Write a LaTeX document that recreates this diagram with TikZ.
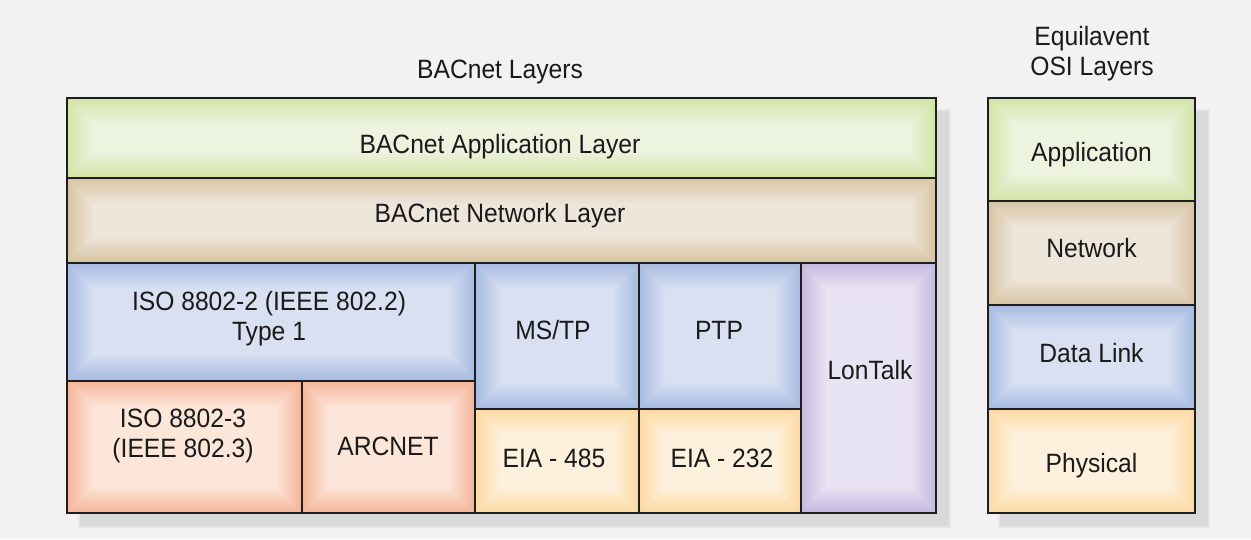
\documentclass[tikz,border=0pt]{standalone}
\usepackage{fontspec}
\setmainfont{Liberation Sans}[FakeStretch=0.93]

% layer colours: edge tone and lighter centre tone
\definecolor{pagebg}{HTML}{F3F1F1}
\definecolor{shadowc}{HTML}{DAD9D9}
\definecolor{shadowsoft}{HTML}{E7E5E5}
\definecolor{linec}{HTML}{1E1E1E}
\definecolor{textc}{HTML}{1A1A1A}
\definecolor{appE}{HTML}{D3E3A6}
\definecolor{appC}{HTML}{ECF3DF}
\definecolor{netE}{HTML}{D7C4A3}
\definecolor{netC}{HTML}{EEE6DA}
\definecolor{dlE}{HTML}{A7BBE1}
\definecolor{dlC}{HTML}{D8E0F2}
\definecolor{phyE}{HTML}{FDD9A2}
\definecolor{phyC}{HTML}{FDF1DE}
\definecolor{ethE}{HTML}{F5B598}
\definecolor{ethC}{HTML}{FCE5D9}
\definecolor{lonE}{HTML}{C4BADF}
\definecolor{lonC}{HTML}{E9E4F3}

% two centred lines, baseline at the first line
\newcommand\twoline[2]{\vtop{\baselineskip=30pt\halign{\hfil##\hfil\cr#1\cr#2\cr}}}

\tikzset{
  cell/.style 2 args={
    draw=linec, line width=1.6pt, inner sep=0pt, outer sep=0pt,
    path picture={
      \foreach \i in {0,...,26}{
        \pgfmathtruncatemacro\pct{100*\i/26}
        \fill[#2!\pct!#1]
          ([shift={(\i,\i)}]path picture bounding box.north west) rectangle
          ([shift={(-\i,-\i)}]path picture bounding box.south east);
      }
    }},
  lbl/.style={anchor=base, inner sep=0pt, text=textc,
    font=\fontsize{26.5}{30}\selectfont},
}

\begin{document}
\begin{tikzpicture}[x=1pt, y=-1pt]
  \fill[pagebg] (0,0) rectangle (1251,539);
  \useasboundingbox (0,0) rectangle (1251,539);

  % drop shadows
  \fill[shadowsoft] (78,109) rectangle (951,528);
  \fill[shadowc] (80,111) rectangle (949,526);
  \fill[shadowsoft] (998,109) rectangle (1210,528);
  \fill[shadowc] (1000,111) rectangle (1208,526);

  % titles
  \node[lbl] (ttl) at (500,78) {BACnet Layers};
  \node[lbl] (osittl) at (1092,45) {\twoline{Equilavent}{OSI Layers}};

  % BACnet stack
  \node[cell={appE}{appC}, minimum width=869, minimum height=80] (app) at (501.5,138) {};
  \node[cell={netE}{netC}, minimum width=869, minimum height=85] (net) at (501.5,220.5) {};
  \node[cell={dlE}{dlC}, minimum width=408, minimum height=118] (iso2) at (271,322) {};
  \node[cell={ethE}{ethC}, minimum width=235, minimum height=132] (iso3) at (184.5,447) {};
  \node[cell={ethE}{ethC}, minimum width=173, minimum height=132] (arc) at (388.5,447) {};
  \node[cell={dlE}{dlC}, minimum width=164, minimum height=146] (mstp) at (557,336) {};
  \node[cell={dlE}{dlC}, minimum width=162, minimum height=146] (ptp) at (720,336) {};
  \node[cell={phyE}{phyC}, minimum width=164, minimum height=104] (eia485) at (557,461) {};
  \node[cell={phyE}{phyC}, minimum width=162, minimum height=104] (eia232) at (720,461) {};
  \node[cell={lonE}{lonC}, minimum width=135, minimum height=250] (lon) at (868.5,388) {};

  \node[lbl] (appT) at (500,153) {BACnet Application Layer};
  \node[lbl] (netT) at (500,222) {BACnet Network Layer};
  \node[lbl] (iso2T) at (269,310) {\twoline{ISO 8802-2 (IEEE 802.2)}{Type 1}};
  \node[lbl] (iso3T) at (183,427) {\twoline{ISO 8802-3}{(IEEE 802.3)}};
  \node[lbl] (arcT) at (388,455) {ARCNET};
  \node[lbl] (mstpT) at (553,339) {MS/TP};
  \node[lbl] (ptpT) at (719,339) {PTP};
  \node[lbl] (eia485T) at (554,467) {EIA - 485};
  \node[lbl] (eia232T) at (722,467) {EIA - 232};
  \node[lbl] (lonT) at (870,379) {LonTalk};

  % OSI reference stack
  \node[cell={appE}{appC}, minimum width=207, minimum height=103] (oapp) at (1091.5,149.5) {};
  \node[cell={netE}{netC}, minimum width=207, minimum height=104] (onet) at (1091.5,253) {};
  \node[cell={dlE}{dlC}, minimum width=207, minimum height=104] (odl) at (1091.5,357) {};
  \node[cell={phyE}{phyC}, minimum width=207, minimum height=104] (ophy) at (1091.5,461) {};

  \node[lbl] (oappT) at (1091.5,161) {Application};
  \node[lbl] (onetT) at (1091.5,257) {Network};
  \node[lbl] (odlT) at (1091.5,362) {Data Link};
  \node[lbl] (ophyT) at (1091.5,472) {Physical};
\end{tikzpicture}
\end{document}
